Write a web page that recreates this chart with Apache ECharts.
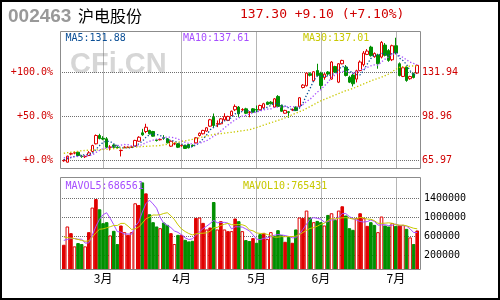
<!DOCTYPE html>
<html>
<head>
<meta charset="UTF-8">
<title>沪电股份</title>
<script src="https://cdn.jsdelivr.net/npm/echarts@6.0.0/dist/echarts.min.js"></script>
<style type="text/css">
html, body {
	width: 100%;
	height: 100%;
	padding: 0px;
	margin: 0px;
	background: #fff;
}
</style>
</head>
<body>
	<div id="chart" style="width: 500px; height: 300px;"></div>

	<script type="text/javascript">
        // 月份刻度（交易日序号）
        var monthLabels = ['3月', '4月', '5月', '6月', '7月'];
        var monthStart = [11, 33, 54, 72, 93];

        // 价格刻度：左边显示涨幅，右边显示价格
        var priceTicks = [65.97, 98.96, 131.94];
        var pctLabels = ['+0.0%', '+50.0%', '+100.0%'];
        var volTicks = [200000, 600000, 1000000, 1400000];

        // K线 开 收 低 高
        var opens = [65.8,64.7,70.8,71.5,72.2,69.3,68.8,69.7,72.7,78.5, 84.7,82.6,82.2,75.8,77.6,76.0,73.4,75.6,75.7,75.8,
            76.7,80.4,86.7,87.7,88.5,87.7,81.4,81.5,83.0,82.2, 76.7,78.3,78.5,77.0,77.2,78.0,77.4,79.2,84.7,86.0,
            88.0,91.7,98.4,93.2,93.5,96.5,96.0,99.7,104.0,106.0, 103.8,104.7,102.0,104.7,104.2,104.0,105.5,109.7,109.7,106.0,
            114.0,107.2,101.4,102.5,103.7,106.0,106.5,120.7,122.0,131.0, 125.7,133.4,131.5,128.2,132.3,127.0,136.4,124.7,138.5,136.0,
            128.4,130.0,127.0,133.4,137.8,145.5,151.0,143.8,145.0,143.5, 152.5,148.4,141.5,152.0,138.5,129.0,136.0,127.3,131.0,131.5];
        var closes = [65.97,69.2,71.1,71.8,69.7,68.9,69.1,71.7,77.2,84.7, 82.5,82.0,75.9,76.1,75.9,75.6,73.6,76.0,76.0,76.2,
            81.0,83.4,85.2,90.9,86.0,84.2,81.0,81.8,82.6,79.2, 80.4,78.7,75.9,77.3,75.0,75.5,77.0,83.0,86.4,88.5,
            90.5,96.5,92.2,93.7,97.2,99.0,99.0,102.9,106.5,101.0, 104.2,101.4,102.3,102.2,103.8,107.2,108.5,108.0,108.5,112.2,
            106.5,102.9,103.5,102.0,104.2,103.5,113.0,122.5,131.5,129.8, 132.5,129.7,122.2,130.7,130.8,139.8,132.2,138.5,141.0,129.7,
            124.7,123.5,133.2,139.8,146.5,148.0,144.6,146.2,138.5,154.5, 144.8,141.0,152.0,146.5,129.7,135.5,126.0,128.9,128.2,137.3];
        var lows = [65.0,64.5,69.9,70.6,69.2,68.0,67.8,69.4,72.4,78.0, 81.8,81.2,75.2,73.5,75.5,74.9,69.0,75.2,75.3,75.4,
            76.3,80.0,84.5,86.5,85.5,83.8,80.2,81.0,81.5,78.8, 76.2,77.5,75.3,76.3,74.6,75.0,76.2,78.8,84.0,85.5,
            87.5,91.2,91.0,91.0,93.0,95.5,95.5,99.3,103.0,98.4, 103.0,100.8,98.4,101.8,102.2,103.5,105.0,107.5,108.0,105.5,
            106.0,102.5,101.0,98.0,103.0,103.0,106.0,120.0,121.5,129.0, 125.0,129.0,119.5,126.5,129.5,126.5,131.5,124.0,138.0,129.0,
            124.0,121.5,124.5,133.0,136.5,145.0,143.8,143.0,134.8,142.5, 144.0,140.0,140.5,145.5,129.0,128.5,125.0,126.5,127.5,130.8];
        var highs = [66.8,69.6,72.0,72.6,72.8,70.2,70.0,73.0,77.8,85.5, 86.0,84.2,83.5,77.5,78.2,76.7,74.2,76.6,76.5,76.8,
            81.5,84.2,89.7,93.5,89.0,88.2,82.0,82.4,85.0,82.8, 81.0,79.5,79.0,78.0,77.8,78.5,78.0,83.5,87.0,89.0,
            91.0,97.2,101.2,96.0,97.8,101.4,99.5,103.4,108.0,106.8, 105.2,105.5,103.0,105.3,107.2,107.8,109.2,110.2,110.5,112.8,
            115.0,107.8,104.0,103.0,105.0,106.5,113.5,123.2,132.2,132.0, 133.0,138.5,132.5,131.5,133.0,140.5,137.0,139.0,141.5,137.5,
            129.5,131.0,134.0,141.0,148.0,149.5,152.0,147.0,146.0,155.5, 154.0,149.5,152.8,158.0,139.5,136.5,136.8,129.5,131.8,137.8];

        // 均线
        var ma5 = [66.5,67.3,68.2,69.0,69.55,70.14,70.12,70.24,71.32,74.32, 77.04,79.62,80.46,80.24,78.48,77.10,75.42,75.44,75.42,75.48,
            76.56,78.52,80.36,83.34,85.30,85.94,85.46,84.78,83.12,81.76, 81.00,80.54,79.36,78.30,77.46,76.48,76.14,77.56,79.38,82.08,
            85.08,88.98,90.82,92.28,94.02,95.72,96.22,98.36,100.92,101.68, 102.72,103.20,103.08,102.22,102.78,103.38,104.80,105.94,107.20,108.88,
            108.74,107.62,106.72,105.42,103.82,103.22,105.24,109.04,114.94,120.06, 125.86,129.20,129.14,128.98,129.18,130.64,131.14,134.40,136.46,136.24,
            133.22,131.48,130.42,130.18,133.54,138.20,142.42,145.02,144.76,146.36, 145.72,145.00,146.16,147.76,142.80,140.94,137.94,133.32,129.66,131.88];
        var ma10 = [68.0,68.2,68.5,68.8,69.0,69.3,69.3,69.5,70.2,71.94, 73.59,74.87,75.35,75.78,76.40,77.07,77.52,77.95,77.83,76.98,
            76.83,76.97,77.90,79.38,80.39,81.25,81.99,82.57,83.23,83.53, 83.47,83.00,82.07,80.71,79.61,78.74,78.34,78.46,78.84,79.77,
            80.78,82.56,84.19,85.83,88.05,90.40,92.60,94.59,96.60,97.85, 99.22,99.71,100.72,101.57,102.23,103.05,104.00,104.51,104.71,105.83,
            106.06,106.21,106.33,106.31,106.35,105.98,106.43,107.88,110.18,111.94, 114.54,117.22,119.09,121.96,124.62,128.25,130.17,131.77,132.72,132.71,
            131.93,131.31,132.41,133.32,134.89,135.71,136.95,137.72,137.47,139.95, 141.96,143.71,145.59,146.26,144.58,143.33,141.47,139.74,138.71,137.61];
        var ma30 = [71.4,71.8,72.2,72.6,72.9,73.3,73.5,73.7,73.8,73.9, 74.0,74.2,74.4,74.6,74.8,75.0,75.2,75.4,75.6,75.9,
            76.0,76.2,76.4,76.6,76.7,76.9,77.0,77.2,77.7,78.2, 78.7,79.2,79.7,80.2,80.7,81.2,81.8,82.4,83.0,83.7,
            84.3,84.9,85.5,85.8,86.1,86.5,86.8,87.1,87.5,87.9, 88.3,88.6,89.0,89.8,90.7,91.6,92.5,93.4,94.3,95.1,
            96.0,96.9,98.0,99.1,100.3,101.4,102.5,103.6,105.0,106.4, 107.9,109.3,110.7,111.8,112.9,114.0,115.1,116.2,117.3,118.3,
            119.0,120.0,121.1,122.3,123.4,124.5,125.6,126.6,127.6,128.4, 129.6,130.8,132.5,134.3,135.8,136.2,136.5,136.7,136.9,137.01];

        // 成交量（千股）及柱子样式：r 空心红，R 实心红，g 实心绿
        var vols = [417,804,663,383,453,432,383,684,1204,1385, 1168,874,895,615,712,432,825,684,627,684,
            1295,1259,1737,1505,1063,895,804,768,888,838, 663,432,627,627,522,488,501,985,994,880,
            741,783,1322,741,916,741,705,705,973,916, 705,516,495,558,459,642,669,537,684,606,
            726,621,480,585,459,741,994,985,1141,994, 895,922,895,825,1048,1084,943,1141,1232,1036,
            768,733,979,1084,979,817,895,838,684,1015, 825,804,874,817,838,838,754,573,432,720];
        var volKind = 'RrRrggrRrR' + 'gggrggRrRr' + 'rRgRgggrgg' + 'RrgRgggRrR' + 'rRgrRrRrRg' +
            'rggRggRrrg' + 'ggRgRgrRrg' + 'rggrgrgrRg' + 'ggrRrRggrr' + 'ggrgRrgrgR';
        var mavol5 = [520,540,560,560,544,547,463,467,631,818, 965,1063,1105,987,853,706,696,654,656,650,
            823,910,1120,1296,1372,1292,1201,1007,884,839, 792,718,690,637,574,539,553,625,698,770,
            820,877,944,893,901,901,885,762,808,808, 801,763,721,638,547,534,565,573,598,628,
            644,635,623,604,574,577,652,753,864,971, 1002,987,969,906,917,955,959,1008,1090,1087,
            1024,982,950,920,909,918,951,923,843,850, 851,833,840,867,832,834,824,764,687,686.561];
        var mavol10 = [594,580,570,558,540,520,501,510,590,681, 756,763,786,809,836,836,880,880,822,752,
            765,803,887,976,1011,1058,1056,1064,1090,1106, 1042,960,849,761,707,666,636,658,668,672,
            680,715,785,796,836,861,881,853,851,855, 851,824,742,723,678,668,664,647,618,588,
            589,600,598,601,601,611,644,688,734,773, 790,820,861,885,944,979,973,989,998,1002,
            990,971,979,1005,998,971,967,937,882,880, 885,892,882,855,841,843,829,802,777,765.431];

        var RED = '#e00000';
        var TXT_RED = '#d00000';
        var GREEN = '#008f00';
        var GRID_GRAY = '#6e6e6e';
        var MONO = 'DejaVu Sans Mono';

        var priceMin = 59.97, priceMax = 161.93;
        var volMin = -96000, volMax = 1830000;

        var cats = opens.map(function (v, i) { return String(i + 1); });
        var candleData = opens.map(function (o, i) {
            return [o, closes[i], lows[i], highs[i]];
        });
        var volData = vols.map(function (v, i) { return [i, v * 1000]; });
        var k = function (arr) { return arr.map(function (v) { return v * 1000; }); };

        // 横向虚线：按刻度值经y轴换算位置，横跨整个网格
        var hLineSeries = function (xi, yi, values) {
            return {
                type: 'custom', xAxisIndex: xi, yAxisIndex: yi, silent: true, z: 1,
                data: values.map(function (v) { return [0, v]; }),
                encode: { x: 0, y: 1 },
                renderItem: function (params, api) {
                    var cs = params.coordSys;
                    var y = Math.round(api.coord([0, api.value(1)])[1] - 0.5) + 0.5;
                    return {
                        type: 'line',
                        shape: { x1: cs.x, y1: y, x2: cs.x + cs.width, y2: y },
                        style: { stroke: GRID_GRAY, lineWidth: 1, lineDash: [1, 1] }
                    };
                }
            };
        };

        // 数值型辅助x轴：只用来画月份竖线（和月份文字），0..n-1 对准每根K线中心
        var monthAxis = function (grid, withLabel) {
            return {
                type: 'value', gridIndex: grid, min: -0.5, max: cats.length - 0.5, position: 'bottom',
                axisLine: { show: false },
                axisTick: { show: false, customValues: monthStart },
                splitLine: { show: true, lineStyle: { color: GRID_GRAY, type: [1, 1], width: 1 } },
                axisLabel: withLabel ? {
                    customValues: monthStart, margin: 3, color: '#000', fontSize: 12, fontFamily: 'Noto Sans CJK SC',
                    formatter: function (v) { return monthLabels[monthStart.indexOf(v)]; }
                } : { show: false }
            };
        };
        var catAxis = function (grid) {
            return { type: 'category', gridIndex: grid, data: cats, boundaryGap: true, show: false };
        };

        var myChart = echarts.init(document.getElementById('chart'));

        var option = {
            animation: false,
            backgroundColor: '#fff',
            grid: [
                { left: 62, width: 357, top: 32.5, height: 136 },
                { left: 62, width: 357, top: 178.5, height: 91 }
            ],
            xAxis: [catAxis(0), catAxis(1), monthAxis(0, false), monthAxis(1, true)],
            yAxis: [
                { type: 'value', gridIndex: 0, position: 'left', min: priceMin, max: priceMax,
                  axisLine: { show: false }, axisTick: { show: false }, splitLine: { show: false },
                  axisLabel: {
                      customValues: priceTicks, margin: 9, fontSize: 10, fontFamily: MONO,
                      formatter: function (v) { return pctLabels[priceTicks.indexOf(v)]; },
                      color: function (v) { return v === priceTicks[0] ? '#000' : TXT_RED; }
                  } },
                { type: 'value', gridIndex: 0, position: 'right', min: priceMin, max: priceMax,
                  axisLine: { show: false }, axisTick: { show: false }, splitLine: { show: false },
                  axisLabel: {
                      customValues: priceTicks, margin: 3, fontSize: 10, fontFamily: MONO,
                      formatter: function (v) { return v.toFixed(2); },
                      color: function (v) { return v === priceTicks[0] ? '#000' : TXT_RED; }
                  } },
                { type: 'value', gridIndex: 1, position: 'right', min: volMin, max: volMax,
                  axisLine: { show: false }, axisTick: { show: false }, splitLine: { show: false },
                  axisLabel: { customValues: volTicks, margin: 5, fontSize: 10, fontFamily: MONO, color: '#000',
                      formatter: function (v) { return String(v); } } }
            ],
            series: [
                hLineSeries(0, 0, priceTicks),
                hLineSeries(1, 2, volTicks),
                // K线
                { type: 'candlestick', name: 'K', xAxisIndex: 0, yAxisIndex: 0, data: candleData, barWidth: 3, z: 3,
                  itemStyle: { color: '#fff', color0: GREEN, borderColor: RED, borderColor0: GREEN, borderWidth: 1 } },
                { type: 'line', name: 'MA5', xAxisIndex: 0, yAxisIndex: 0, data: ma5, showSymbol: false, z: 4,
                  lineStyle: { color: '#0b4f96', width: 1.3, type: [1.3, 2] } },
                { type: 'line', name: 'MA10', xAxisIndex: 0, yAxisIndex: 0, data: ma10, showSymbol: false, z: 4,
                  lineStyle: { color: '#a64dff', width: 1.3, type: [1.3, 2] } },
                { type: 'line', name: 'MA30', xAxisIndex: 0, yAxisIndex: 0, data: ma30, showSymbol: false, z: 4,
                  lineStyle: { color: '#c8c800', width: 1.3, type: [1.3, 2] } },
                // 成交量
                { type: 'custom', name: 'VOL', xAxisIndex: 1, yAxisIndex: 2, data: volData, z: 3,
                  encode: { x: 0, y: 1 },
                  renderItem: function (params, api) {
                      var i = api.value(0);
                      var top = api.coord([i, api.value(1)]);
                      var base = api.coord([i, volMin]);
                      var w = 2.6;
                      var kind = volKind.charAt(i);
                      return {
                          type: 'rect',
                          shape: { x: top[0] - w / 2, y: top[1], width: w, height: base[1] - top[1] },
                          style: { fill: kind === 'r' ? '#fff' : (kind === 'g' ? GREEN : RED),
                                   stroke: kind === 'g' ? GREEN : RED, lineWidth: 1 }
                      };
                  } },
                { type: 'line', name: 'MAVOL5', xAxisIndex: 1, yAxisIndex: 2, data: k(mavol5), showSymbol: false, z: 4,
                  lineStyle: { color: '#a64dff', width: 1 } },
                { type: 'line', name: 'MAVOL10', xAxisIndex: 1, yAxisIndex: 2, data: k(mavol10), showSymbol: false, z: 4,
                  lineStyle: { color: '#c8c800', width: 1 } }
            ],
            graphic: [
                { type: 'text', x: 70, y: 65, z: 0, style: { text: 'CFi.CN', fill: '#d6d6d6',
                    font: 'bold 29px "Liberation Sans"', verticalAlign: 'middle' } },
                { type: 'text', x: 8, y: 16.7, z: 100, style: { text: '002463', fill: '#999',
                    font: 'bold 19px "Liberation Sans"', verticalAlign: 'middle' } },
                { type: 'text', x: 78, y: 15.5, z: 100, style: { text: '沪电股份', fill: '#000',
                    font: '16px "Noto Sans CJK SC"', verticalAlign: 'middle' } },
                { type: 'text', x: 240, y: 14.5, z: 100, style: { text: '137.30 +9.10 (+7.10%)', fill: TXT_RED,
                    font: '13px "' + MONO + '"', verticalAlign: 'middle' } },
                { type: 'text', x: 65.5, y: 38, z: 100, style: { text: 'MA5:131.88', fill: '#0b4f96',
                    font: '10px "' + MONO + '"', verticalAlign: 'middle' } },
                { type: 'text', x: 183, y: 38, z: 100, style: { text: 'MA10:137.61', fill: '#a64dff',
                    font: '10px "' + MONO + '"', verticalAlign: 'middle' } },
                { type: 'text', x: 303, y: 38, z: 100, style: { text: 'MA30:137.01', fill: '#c8c800',
                    font: '10px "' + MONO + '"', verticalAlign: 'middle' } },
                { type: 'text', x: 65.5, y: 186, z: 100, style: { text: 'MAVOL5:686561', fill: '#a64dff',
                    font: '10px "' + MONO + '"', verticalAlign: 'middle' } },
                { type: 'text', x: 243, y: 186, z: 100, style: { text: 'MAVOL10:765431', fill: '#c8c800',
                    font: '10px "' + MONO + '"', verticalAlign: 'middle' } },
                // 面板边框
                { type: 'rect', z: 100, shape: { x: 60.5, y: 31.5, width: 360, height: 137 },
                  style: { fill: 'none', stroke: '#8c8c8c', lineWidth: 1 } },
                { type: 'rect', z: 100, shape: { x: 60.5, y: 177.5, width: 360, height: 92 },
                  style: { fill: 'none', stroke: '#8c8c8c', lineWidth: 1 } },
                { type: 'rect', z: 100, shape: { x: 1, y: 1, width: 498, height: 298 },
                  style: { fill: 'none', stroke: '#000', lineWidth: 2 } }
            ]
        };

        myChart.setOption(option);
	</script>
</body>
</html>
